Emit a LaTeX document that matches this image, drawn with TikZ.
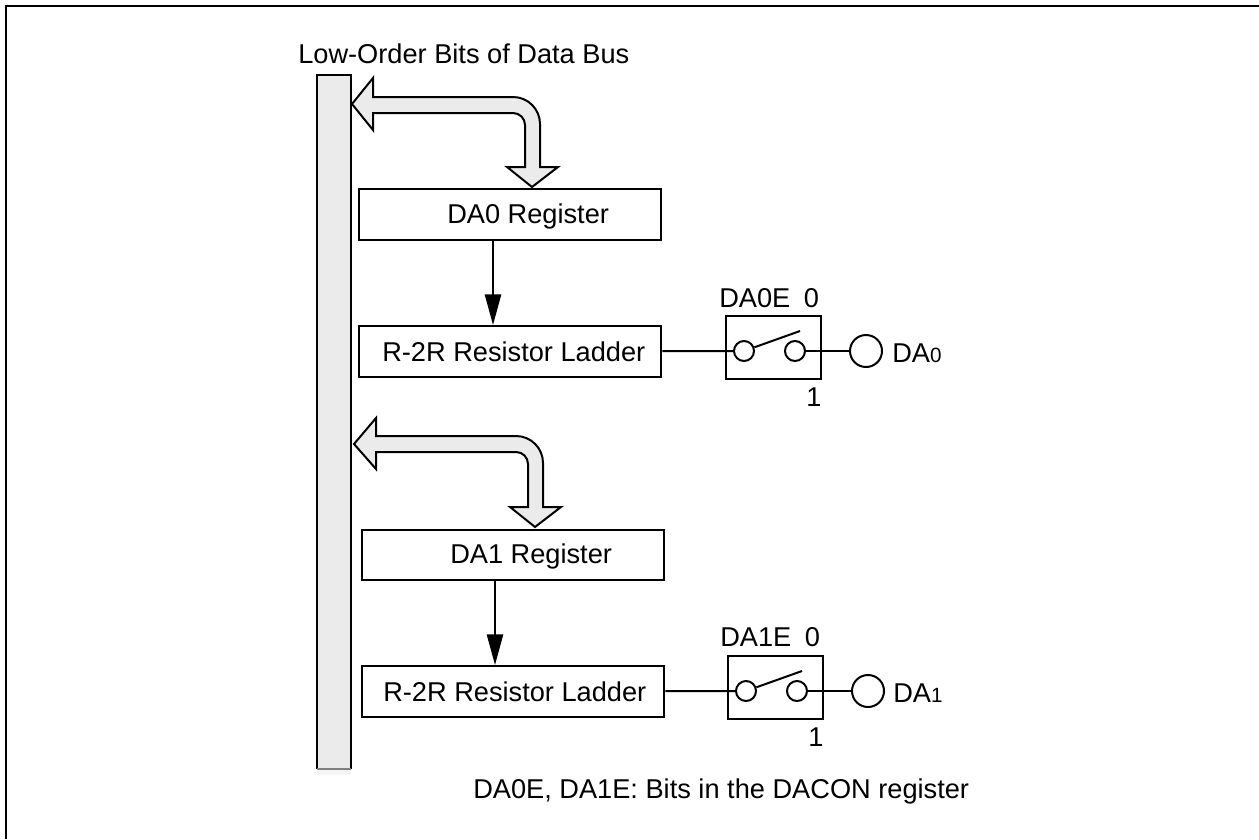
\documentclass[tikz,border=0pt]{standalone}
\usepackage{fontspec}
\usetikzlibrary{arrows.meta}
\setmainfont{Liberation Sans}
\tikzset{
  blockbox/.style={draw, line width=1.6pt, inner sep=0pt, minimum width=227pt, minimum height=38pt},
  swbox/.style={draw, line width=1.6pt, minimum width=71.25pt, minimum height=47.25pt, inner sep=0pt},
  contact/.style={circle, draw, line width=1.5pt, minimum size=15pt, inner sep=0pt},
  output/.style={circle, draw, line width=1.5pt, minimum size=24pt, inner sep=0pt},
  wire/.style={line width=1.5pt},
  fatarrow/.style={draw, line width=1.5pt, fill=black!8, line join=miter},
  busarrow/.style={-{Triangle[length=23pt, width=12pt]}, line width=1.9pt},
  lbl/.style={inner sep=0pt, font=\fontsize{20.4}{24}\selectfont}
}
\newcommand{\smallidx}[1]{{\fontsize{15.5}{18}\selectfont #1}}
\begin{document}
\begin{tikzpicture}[x=0.75pt, y=-0.75pt]
      \useasboundingbox (0, 0) rectangle (1259, 839);
      \draw[line width=1.8pt] (1259, 6) -- (6, 6) -- (6, 839);
      \node[lbl, anchor=west] (title) at (298, 54) {Low-Order Bits of Data Bus};
      % bus
      \fill[black!4] (317, 768) rectangle (351, 775);
      \draw[line width=1.7pt, fill=black!8] (351, 769) -- (351, 75) -- (317, 75) -- (317, 769);
      \draw[line width=0.8pt, black!50] (317, 769) -- (351, 769);
      % upper stage
      \node[blockbox] (reg0) at (510, 214.5) {};
      \node[lbl, anchor=west] (reg0text) at (447, 216) {DA0 Register};
      \node[blockbox] (lad0) at (510, 351.5) {};
      \node[lbl, anchor=west] (lad0text) at (382, 352) {R-2R Resistor Ladder};
      \node[swbox] (sw0) at (773.5, 347.5) {};
      \node[contact] (a0) at (744, 351) {};
      \node[contact] (b0) at (795, 351) {};
      \coordinate (tip0) at (800, 331);
      \node[output] (out0) at (866, 351) {};
      \node[lbl, anchor=west] (da0) at (892, 353) {DA\smallidx{0}};
      \node[lbl, anchor=west] (en0) at (719, 298) {DA0E\hspace{0.5em}0};
      \node[lbl] (one0) at (814, 397) {1};
      \draw[fatarrow] (352, 104) -- (373, 78) -- (373, 97) -- (513, 97) arc[start angle=-90, end angle=0, radius=27] -- (540, 167) -- (558, 167) -- (532, 187) -- (507, 167) -- (525, 167) -- (525, 125) arc[start angle=0, end angle=-90, radius=12] -- (373, 113) -- (373, 130) -- cycle;
      \draw[busarrow] (reg0.south -| 493, 0) -- (lad0.north -| 493, 0);
      \draw[wire] (lad0) -- (a0);
      \draw[wire] (a0) -- (tip0);
      \draw[wire] (b0) -- (out0);
      % lower stage
      \node[blockbox] (reg1) at (513, 555) {};
      \node[lbl, anchor=west] (reg1text) at (450, 556.5) {DA1 Register};
      \node[blockbox] (lad1) at (513, 691.5) {};
      \node[lbl, anchor=west] (lad1text) at (383, 692) {R-2R Resistor Ladder};
      \node[swbox] (sw1) at (775.5, 687.5) {};
      \node[contact] (a1) at (746, 691) {};
      \node[contact] (b1) at (797, 691) {};
      \coordinate (tip1) at (802, 671);
      \node[output] (out1) at (868, 691) {};
      \node[lbl, anchor=west] (da1) at (893, 693) {DA\smallidx{1}};
      \node[lbl, anchor=west] (en1) at (720, 637) {DA1E\hspace{0.5em}0};
      \node[lbl] (one1) at (816, 737) {1};
      \draw[fatarrow] (354, 444) -- (376, 418) -- (376, 436) -- (516, 436) arc[start angle=-90, end angle=0, radius=27] -- (543, 507) -- (561, 507) -- (535, 527) -- (510, 507) -- (528, 507) -- (528, 464) arc[start angle=0, end angle=-90, radius=12] -- (376, 452) -- (376, 469) -- cycle;
      \draw[busarrow] (reg1.south -| 495, 0) -- (lad1.north -| 495, 0);
      \draw[wire] (lad1) -- (a1);
      \draw[wire] (a1) -- (tip1);
      \draw[wire] (b1) -- (out1);
      \node[lbl, anchor=west] (note) at (473, 791) {DA0E, DA1E: Bits in the DACON register};
\end{tikzpicture}
\end{document}
